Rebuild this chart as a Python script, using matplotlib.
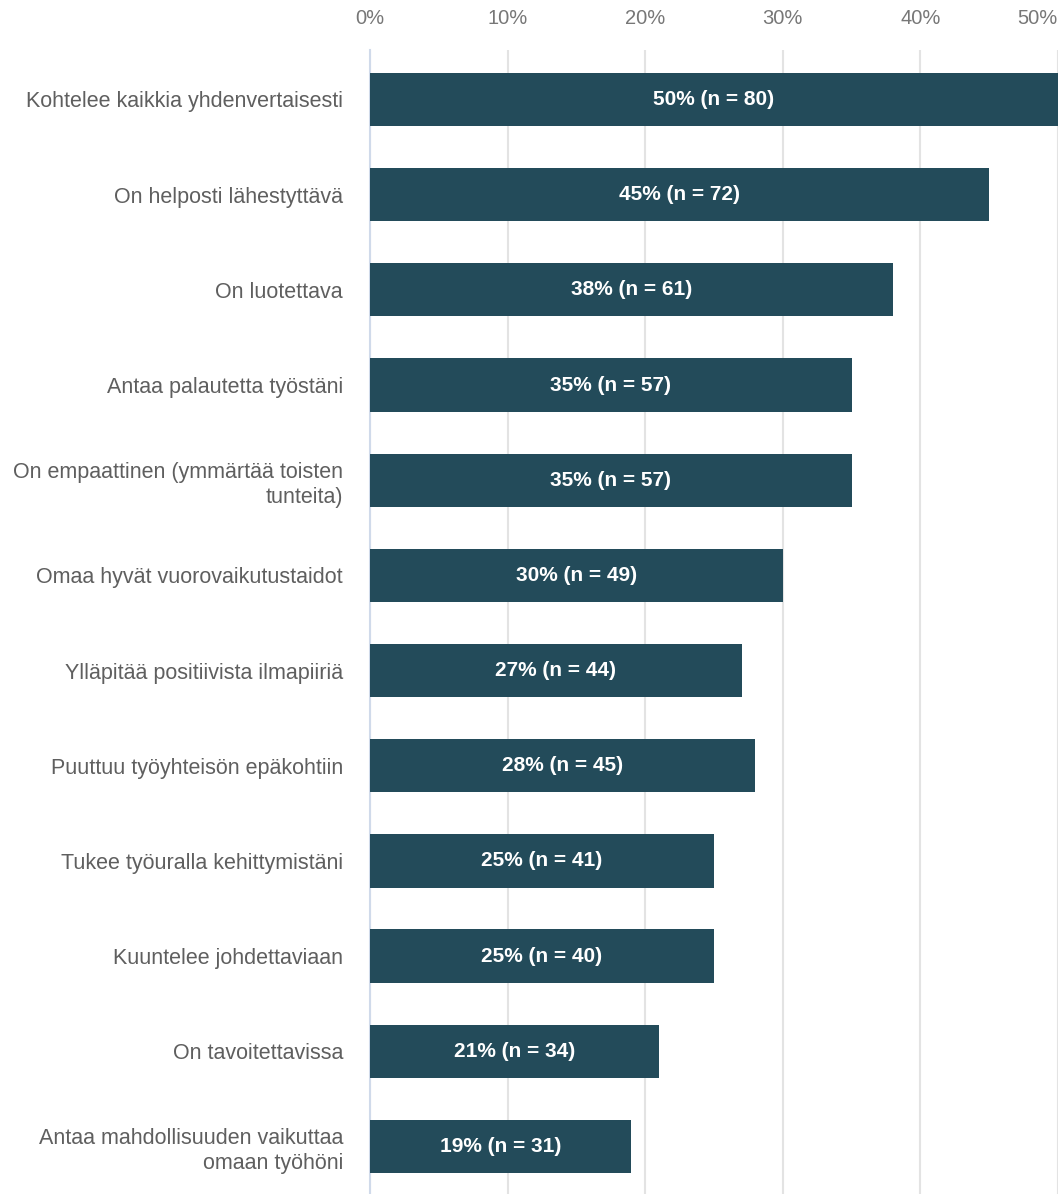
import matplotlib.pyplot as plt

plt.rcParams['font.family'] = ['Liberation Sans', 'DejaVu Sans']

labels = [
    'Kohtelee kaikkia yhdenvertaisesti',
    'On helposti lähestyttävä',
    'On luotettava',
    'Antaa palautetta työstäni',
    'On empaattinen (ymmärtää toisten\ntunteita)',
    'Omaa hyvät vuorovaikutustaidot',
    'Ylläpitää positiivista ilmapiiriä',
    'Puuttuu työyhteisön epäkohtiin',
    'Tukee työuralla kehittymistäni',
    'Kuuntelee johdettaviaan',
    'On tavoitettavissa',
    'Antaa mahdollisuuden vaikuttaa\nomaan työhöni',
]
pct = [50, 45, 38, 35, 35, 30, 27, 28, 25, 25, 21, 19]
n = [80, 72, 61, 57, 57, 49, 44, 45, 41, 40, 34, 31]

ticks = [0, 10, 20, 30, 40, 50]

fig = plt.figure(figsize=(10.61, 11.94), dpi=100)
ax = fig.add_axes([370/1061, 0, (1058-370)/1061, 1 - 50/1194])

y = list(range(len(labels)))
ax.barh(y, pct, height=0.56, color='#234b5a', zorder=3)
for i in y:
    ax.text(pct[i] / 2, i, f'{pct[i]}% (n = {n[i]})', ha='center', va='center',
            color='white', fontsize=15, fontweight='bold', zorder=4)

ax.set_xlim(0, 50)
ax.set_ylim(11.5, -0.52)
ax.set_yticks(y)
ax.set_yticklabels(labels, fontsize=15.5, color='#5f5f5f', linespacing=1.25)
ax.set_xticks(ticks)
ax.set_xticklabels([f'{t}%' for t in ticks], fontsize=14.5, color='#777777')
ax.xaxis.tick_top()
# last tick label would run off the right edge
ax.xaxis.get_major_ticks()[-1].label2.set_horizontalalignment('right')
ax.tick_params(axis='both', length=0)
ax.tick_params(axis='y', pad=19.5)
ax.tick_params(axis='x', pad=16)
ax.grid(axis='x', color='#e3e3e3', linewidth=1.5, zorder=0)
for s in ['top', 'right', 'bottom']:
    ax.spines[s].set_visible(False)
ax.spines['left'].set_color('#d0daea')
ax.spines['left'].set_linewidth(1.5)

fig.savefig('out.png', dpi=100)
